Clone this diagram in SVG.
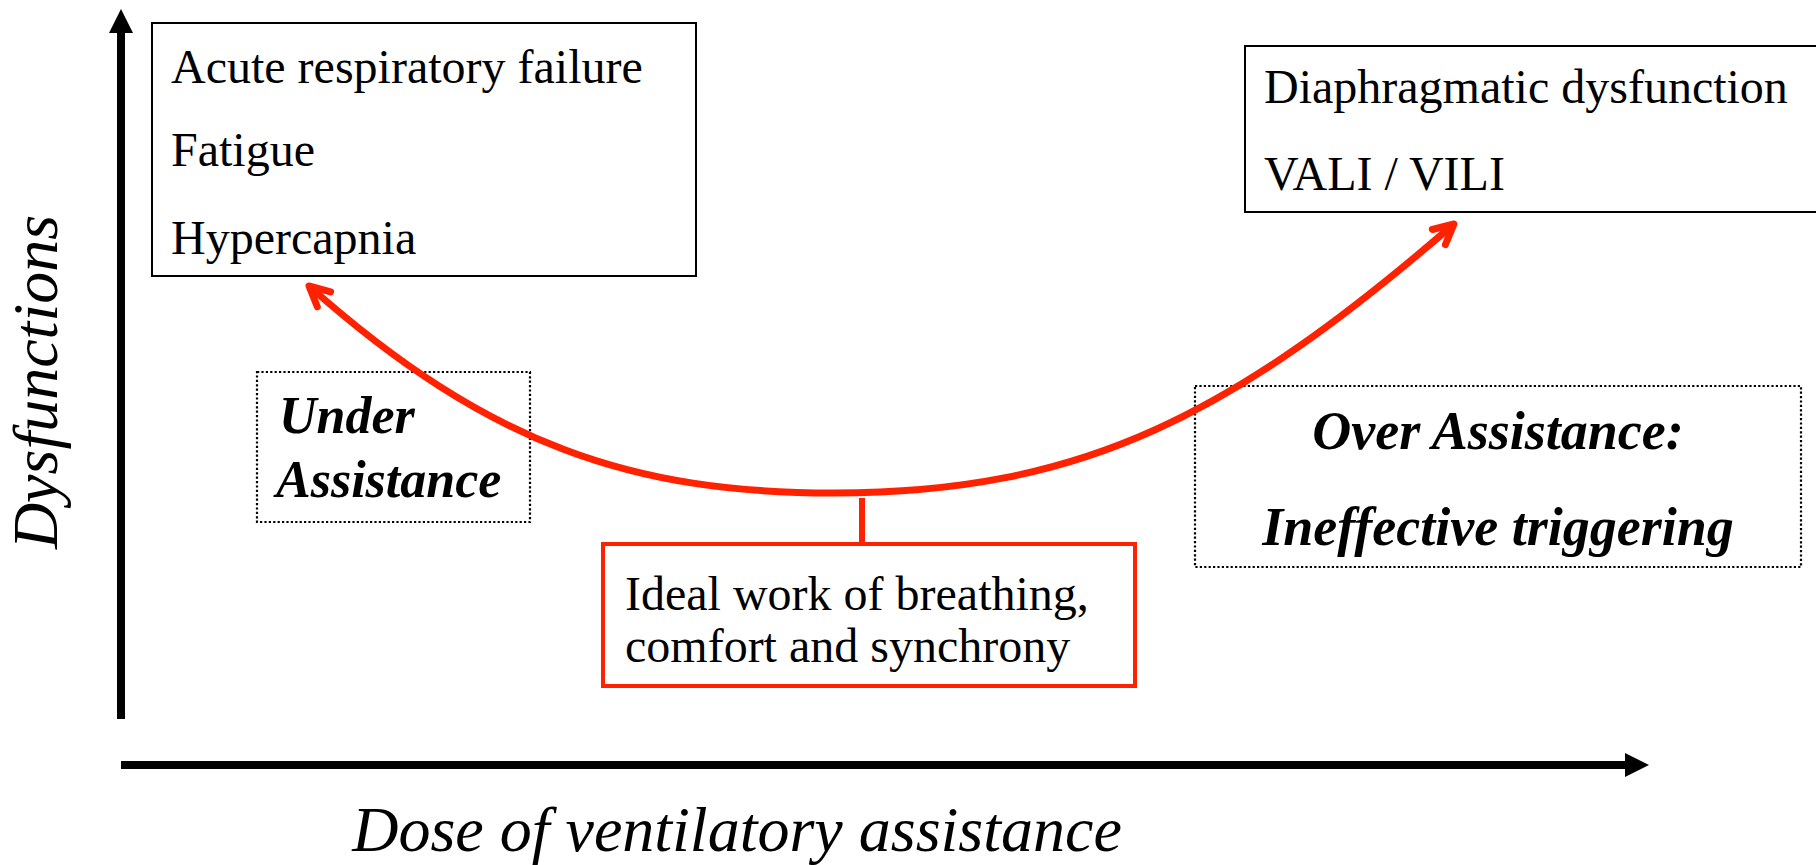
<svg xmlns="http://www.w3.org/2000/svg" width="1816" height="865" viewBox="0 0 1816 865">
<defs>
<style>
.box{fill:#fff;stroke:#000;stroke-width:2}
.dot{fill:none;stroke:#000;stroke-width:2.2;stroke-dasharray:2.2 2.2}
.red{fill:#fff;stroke:#ff2200;stroke-width:4}
.t{font-family:"Liberation Serif","Times New Roman",serif;font-size:48px;fill:#000}
.bi{font-family:"Liberation Serif","Times New Roman",serif;font-weight:bold;font-style:italic;fill:#000}
.ax{font-family:"Liberation Serif","Times New Roman",serif;font-style:italic;font-size:64px;fill:#000}
.axis{stroke:#000;stroke-width:8;fill:none}
.curve{stroke:#ff2200;stroke-width:7;fill:none}
</style>
<marker id="ah" markerUnits="userSpaceOnUse" markerWidth="24" markerHeight="24" viewBox="0 0 24 24" refX="0" refY="12" orient="auto">
<path d="M0,0 L24,12 L0,24 Z" fill="#000"/>
</marker>
<marker id="rh" markerUnits="userSpaceOnUse" markerWidth="40" markerHeight="40" viewBox="-30 -20 40 40" refX="0" refY="0" orient="auto-start-reverse" overflow="visible">
<path d="M-20,-10 L0,0 L-20,10" fill="none" stroke="#ff2200" stroke-width="7" stroke-linecap="round" stroke-linejoin="round"/>
</marker>
</defs>
<rect width="1816" height="865" fill="#fff"/>

<g id="axes">
<line class="axis" x1="121" y1="719" x2="121" y2="33" marker-end="url(#ah)"/>
<line class="axis" x1="121" y1="765" x2="1625" y2="765" marker-end="url(#ah)"/>
<text class="ax" x="737" y="851" text-anchor="middle">Dose of ventilatory assistance</text>
<text class="ax" transform="translate(57,382) rotate(-90)" text-anchor="middle">Dysfunctions</text>
</g>

<g id="under-assistance">
<rect class="dot" x="257" y="372" width="273" height="150"/>
<text class="bi" font-size="52" x="279" y="433">Under</text>
<text class="bi" font-size="52" x="276" y="497">Assistance</text>
</g>

<g id="over-assistance">
<rect class="dot" x="1195" y="386" width="606" height="181"/>
<text class="bi" font-size="54" x="1498" y="449" text-anchor="middle">Over Assistance:</text>
<text class="bi" font-size="54" x="1498" y="545" text-anchor="middle">Ineffective triggering</text>
</g>

<g id="connectors">
<path class="curve" d="M309,286 C489,446 634,493 834,493 C1084,493 1234,414 1454,224" marker-start="url(#rh)" marker-end="url(#rh)"/>
<line x1="862" y1="498" x2="862" y2="544" stroke="#ff2200" stroke-width="6"/>
</g>

<g id="under-dysfunctions">
<rect class="box" x="152" y="23" width="544" height="253"/>
<text class="t" x="171" y="83">Acute respiratory failure</text>
<text class="t" x="171" y="166">Fatigue</text>
<text class="t" x="171" y="254">Hypercapnia</text>
</g>

<g id="over-dysfunctions">
<rect class="box" x="1245" y="46" width="580" height="166"/>
<text class="t" x="1264" y="103">Diaphragmatic dysfunction</text>
<text class="t" x="1264" y="190">VALI / VILI</text>
</g>

<g id="ideal">
<rect class="red" x="603" y="544" width="532" height="142"/>
<text class="t" x="625" y="610">Ideal work of breathing,</text>
<text class="t" x="625" y="662">comfort and synchrony</text>
</g>
</svg>
